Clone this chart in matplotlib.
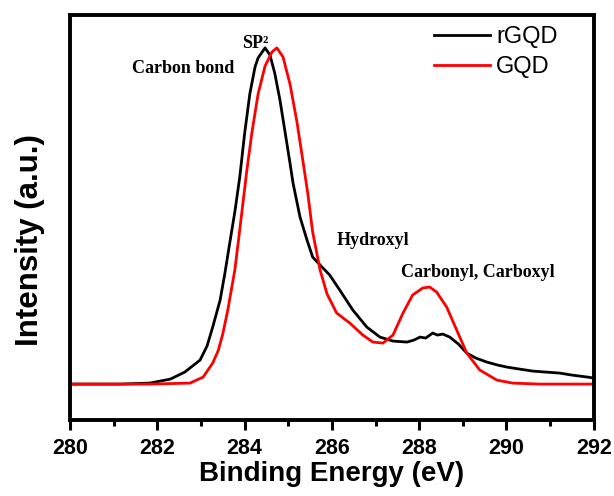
import matplotlib.pyplot as plt
from matplotlib.ticker import MultipleLocator

# XPS C1s spectra, rGQD vs GQD
e_rgqd = [280.0, 281.15, 281.83, 282.3, 282.63, 282.98, 283.14, 283.27, 283.44, 283.55,
          283.66, 283.78, 283.89, 284.0, 284.12, 284.24, 284.31, 284.47, 284.58, 284.69,
          284.81, 284.92, 285.04, 285.11, 285.27, 285.43, 285.56, 285.73, 285.95, 286.18,
          286.48, 286.8, 287.1, 287.4, 287.72, 287.88, 288.02, 288.15, 288.31, 288.42,
          288.54, 288.7, 288.9, 289.09, 289.3, 289.55, 289.8, 290.01, 290.3, 290.6,
          290.9, 291.22, 291.5, 291.86, 292.0]
i_rgqd = [0, 0, 1, 5, 12, 24, 38, 57, 84, 111,
          141, 173, 207, 250, 290, 317, 326, 336, 329, 311,
          284, 254, 221, 201, 167, 144, 127, 119, 109, 94,
          74, 57, 47, 43, 42, 44, 47, 46, 51, 49,
          50, 47, 40, 31, 26, 22, 19, 17, 15, 13,
          12, 11, 9, 7, 6]

e_gqd = [280.0, 281.83, 282.75, 283.05, 283.27, 283.4, 283.5, 283.62, 283.78, 283.9,
         284.05, 284.17, 284.31, 284.47, 284.63, 284.74, 284.88, 285.04, 285.2, 285.34,
         285.45, 285.56, 285.73, 285.89, 286.11, 286.41, 286.71, 286.94, 287.17, 287.4,
         287.63, 287.85, 288.08, 288.24, 288.4, 288.63, 288.86, 289.09, 289.39, 289.78,
         290.14, 290.76, 292.0]
i_gqd = [0, 0, 1, 7, 21, 34, 50, 75, 115, 158,
         213, 252, 290, 318, 332, 336, 327, 300, 262, 222,
         190, 152, 114, 90, 71, 61, 49, 42, 41, 49,
         71, 89, 96, 97, 92, 77, 54, 31, 14, 4,
         1, 0, 0]

fig = plt.figure(figsize=(6.14, 4.96), dpi=100)
ax = fig.add_axes([0.114, 0.153, 0.853, 0.817])

ax.plot(e_rgqd, i_rgqd, color='black', lw=2, label='rGQD')
ax.plot(e_gqd, i_gqd, color='red', lw=2, label='GQD')

ax.set_xlim(280, 292)
ax.set_ylim(-36, 369)
ax.xaxis.set_major_locator(MultipleLocator(2))
ax.xaxis.set_minor_locator(MultipleLocator(1))
ax.set_yticks([])
ax.tick_params(axis='x', which='major', direction='out', length=7, width=2.2, pad=6)
ax.tick_params(axis='x', which='minor', direction='out', length=4, width=2.2)
for lab in ax.get_xticklabels():
    lab.set_fontfamily('Liberation Sans')
    lab.set_fontweight('bold')
    lab.set_fontsize(15.5)
for sp in ax.spines.values():
    sp.set_linewidth(2.8)

ax.set_xlabel('Binding Energy (eV)', fontfamily='Liberation Sans', fontweight='bold',
              fontsize=20, labelpad=1)
ax.set_ylabel('Intensity (a.u.)', fontfamily='Liberation Sans', fontweight='bold',
              fontsize=22.5)
ax.yaxis.set_label_coords(-0.048, 0.444)

serif = dict(fontfamily='Liberation Serif', fontweight='bold', fontsize=13, ha='center', va='center')
ax.text(284.24, 340, 'SP²', **serif)
ax.text(282.59, 315, 'Carbon bond', **serif)
ax.text(286.94, 144, 'Hydroxyl', **serif)
ax.text(289.34, 112, 'Carbonyl, Carboxyl', **serif)

ax.legend(loc='upper right', bbox_to_anchor=(0.949, 0.995), frameon=False,
          handlelength=2.4, handletextpad=0.25, labelspacing=0.32, borderaxespad=0,
          prop={'family': 'Liberation Sans', 'size': 17})

fig.savefig('out.png', dpi=100)
